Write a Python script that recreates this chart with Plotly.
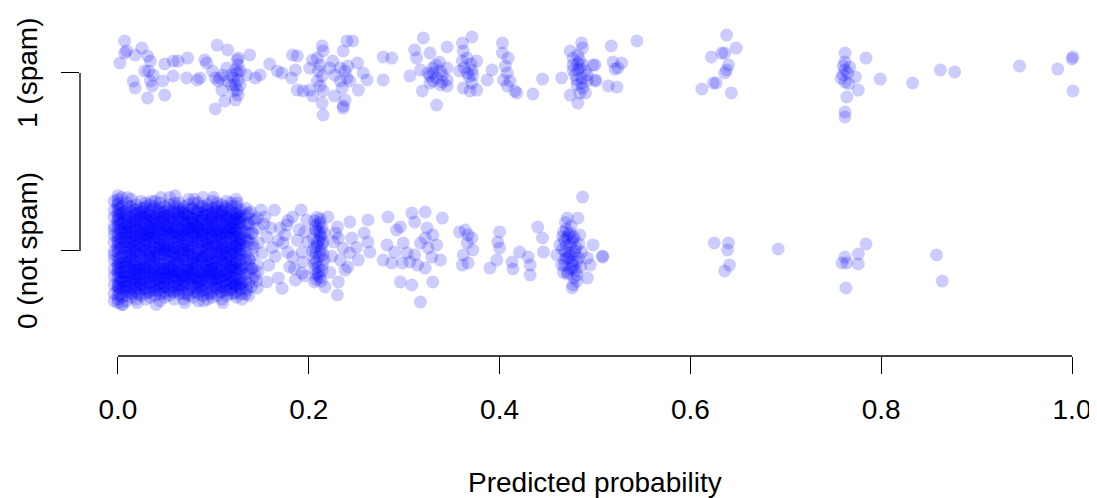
import plotly.graph_objects as go

# ---------------- data ----------------
x_tick_vals = [0.0, 0.2, 0.4, 0.6, 0.8, 1.0]
x_tick_text = ["0.0", "0.2", "0.4", "0.6", "0.8", "1.0"]
y_tick_vals = [0, 1]
y_tick_text = ["0 (not spam)", "1 (spam)"]

# spam (class 1): predicted probability, jittered class value
spam_pts = [
    (0.007,1.180),(0.007,1.112),(0.009,1.124),(0.002,1.056),(0.018,1.101),(0.025,1.140),(0.031,1.096),
    (0.034,1.067),(0.032,1.011),(0.028,1.011),(0.037,0.989),(0.034,0.955),(0.036,0.927),(0.016,0.955),
    (0.018,0.916),(0.031,0.860),(0.049,0.876),(0.049,1.051),(0.058,1.067),(0.063,1.067),(0.073,1.084),
    (0.058,0.983),(0.047,0.955),(0.072,0.972),(0.083,0.961),(0.086,0.972),(0.091,1.073),(0.093,1.056),
    (0.104,1.157),(0.115,1.129),(0.099,1.011),(0.102,0.972),(0.105,0.955),(0.109,0.904),(0.112,0.843),
    (0.102,0.798),(0.126,1.084),(0.138,1.101),(0.135,0.989),(0.144,0.972),(0.149,0.989),
    (0.125,1.073),(0.126,1.045),(0.123,1.017),(0.125,1.000),(0.121,0.972),(0.126,0.961),(0.123,0.933),
    (0.125,0.904),(0.126,0.876),(0.123,0.848),(0.119,0.989),(0.128,1.011),(0.119,0.933),(0.115,0.955),
    (0.110,0.989),(0.114,1.028),(0.107,0.972),(0.128,0.933),(0.121,0.899),
    (0.159,1.051),(0.167,1.011),(0.172,1.000),(0.183,1.101),(0.188,1.096),(0.186,1.017),(0.182,0.972),
    (0.188,0.904),(0.194,0.899),(0.201,0.904),(0.201,1.028),(0.204,1.073),(0.214,1.152),(0.215,1.124),
    (0.209,1.084),(0.212,1.045),(0.210,1.011),(0.214,0.983),(0.209,0.955),(0.212,0.927),(0.215,0.899),
    (0.214,0.831),(0.215,0.764),(0.204,0.871),(0.222,1.028),(0.225,1.067),(0.227,0.989),(0.233,0.955),
    (0.235,0.916),(0.227,0.871),(0.236,0.815),(0.240,1.180),(0.241,1.039),(0.238,1.011),
    (0.246,1.180),(0.236,1.124),(0.233,1.028),(0.240,0.972),(0.251,1.056),(0.257,1.000),(0.261,0.961),
    (0.252,0.904),(0.238,0.848),(0.236,0.803),(0.243,0.955),(0.278,1.090),(0.287,1.084),(0.278,0.961),
    (0.320,1.197),(0.311,1.129),(0.313,1.084),(0.327,1.112),(0.345,1.146),(0.306,0.983),(0.317,1.017),
    (0.330,1.028),(0.330,0.955),(0.327,0.983),(0.338,1.011),(0.345,1.028),(0.345,0.961),(0.345,0.927),
    (0.338,0.933),(0.319,0.899),(0.334,0.820),(0.361,1.169),(0.371,1.202),(0.362,1.124),(0.366,1.084),
    (0.361,1.067),(0.358,1.011),(0.371,1.017),(0.372,0.989),(0.371,0.944),(0.376,1.067),(0.362,0.916),
    (0.369,0.899),(0.376,0.904),(0.330,1.000),(0.334,0.972),(0.327,0.944),(0.340,0.989),(0.333,1.045),
    (0.325,1.000),(0.340,0.950),(0.337,1.060),(0.366,1.000),(0.368,0.980),(0.363,1.030),(0.370,1.050),
    (0.392,1.017),(0.387,0.961),(0.403,1.169),(0.403,1.112),(0.409,1.084),(0.406,1.039),(0.408,1.000),
    (0.404,0.961),(0.411,0.955),(0.408,0.927),(0.416,0.899),(0.418,0.888),(0.435,0.882),(0.445,0.966),
    (0.482,1.101),(0.484,1.073),(0.477,1.045),(0.487,1.045),(0.482,1.017),(0.490,1.011),(0.479,0.989),
    (0.486,0.972),(0.492,0.955),(0.481,0.933),(0.487,0.916),(0.484,0.888),(0.486,1.169),(0.487,1.140),
    (0.474,1.124),(0.498,1.045),(0.500,0.961),(0.465,0.972),(0.474,0.876),(0.482,0.831),(0.490,0.888),
    (0.477,1.084),(0.484,1.028),(0.492,0.989),(0.481,0.961),(0.486,0.944),(0.477,1.017),(0.482,1.056),
    (0.517,1.152),(0.544,1.180),(0.500,1.045),(0.519,1.062),(0.528,1.056),(0.524,1.028),(0.521,1.022),
    (0.501,0.955),(0.514,0.927),(0.523,0.921),
    (0.638,1.213),(0.648,1.140),(0.633,1.112),(0.636,1.112),(0.622,1.090),(0.640,1.045),(0.638,1.017),
    (0.636,1.000),(0.627,0.944),(0.624,0.944),(0.612,0.910),(0.643,0.888),
    (0.762,1.112),(0.762,1.062),(0.762,1.017),(0.760,0.989),(0.767,1.034),(0.773,0.978),(0.762,0.949),
    (0.776,0.904),(0.764,0.865),(0.762,0.781),(0.762,0.753),(0.784,1.084),(0.799,0.966),(0.833,0.944),
    (0.862,1.017),(0.877,1.006),(0.945,1.039),(0.985,1.022),(1.001,1.090),(1.000,1.079),(1.001,0.899),
    (0.760,1.040),(0.765,1.000),(0.758,0.970),(0.766,0.940),
]

# not spam (class 0): sparse / moderate regions
notspam_pts = [
    (0.126,0.185),(0.136,0.157),(0.146,0.185),(0.154,0.191),(0.147,0.129),(0.156,0.079),(0.147,0.045),
    (0.151,-0.011),(0.146,-0.079),(0.147,-0.118),(0.156,-0.174),(0.146,-0.208),(0.130,-0.180),(0.123,-0.191),
    (0.168,-0.152),(0.170,0.129),(0.177,0.146),(0.183,0.191),(0.173,0.045),(0.178,-0.006),(0.183,-0.034),
    (0.186,-0.163),(0.193,-0.124),(0.198,0.174),(0.196,0.107),(0.199,0.051),(0.193,-0.006),(0.194,-0.062),
    (0.206,-0.174),(0.217,-0.202),(0.220,0.191),(0.230,0.135),(0.231,0.073),(0.236,0.017),(0.233,-0.051),
    (0.238,-0.107),(0.231,-0.174),(0.230,-0.247),(0.243,0.163),(0.245,0.073),(0.243,-0.011),(0.241,-0.090),
    (0.140,0.10),(0.142,0.02),(0.138,-0.05),(0.144,-0.14),(0.160,0.13),(0.162,0.02),(0.158,-0.08),
    (0.165,-0.03),(0.175,0.09),(0.180,-0.09),(0.188,0.06),(0.190,0.12),(0.185,-0.10),(0.196,-0.14),
    (0.150,0.23),(0.164,0.23),(0.192,0.23),(0.172,-0.21),(0.135,0.06),(0.140,-0.10),(0.153,0.15),
    (0.168,0.06),(0.178,0.17),(0.222,-0.12),(0.226,0.05),(0.224,-0.03),(0.228,0.10),(0.250,0.02),(0.252,-0.05),
    (0.206,0.17),(0.210,0.15),(0.214,0.13),(0.208,0.11),(0.212,0.09),(0.205,0.07),(0.215,0.05),(0.209,0.03),
    (0.213,0.01),(0.207,-0.01),(0.211,-0.03),(0.216,-0.05),(0.206,-0.07),(0.210,-0.09),(0.214,-0.11),
    (0.208,-0.13),(0.212,-0.15),(0.209,0.19),(0.213,-0.17),(0.207,0.12),(0.211,0.06),(0.215,-0.02),
    (0.205,-0.04),(0.210,-0.12),(0.216,0.10),(0.204,0.00),(0.212,0.16),(0.208,-0.16),(0.214,0.04),(0.206,-0.10),
    (0.207,0.14),(0.211,0.11),(0.213,0.08),(0.209,0.05),(0.206,0.02),(0.212,-0.01),(0.208,-0.06),
    (0.214,-0.08),(0.210,-0.14),(0.212,0.18),
    (0.262,0.174),(0.258,0.101),(0.262,0.051),(0.264,-0.006),(0.283,0.191),(0.292,0.118),(0.296,0.135),
    (0.308,0.213),(0.322,0.219),(0.311,0.163),(0.340,0.185),(0.282,0.034),(0.278,-0.051),(0.287,-0.067),
    (0.299,0.045),(0.303,-0.011),(0.306,-0.062),(0.311,-0.022),(0.317,0.045),(0.322,0.073),(0.325,0.017),
    (0.329,-0.034),(0.334,0.034),(0.338,-0.051),(0.314,-0.079),(0.322,-0.096),(0.296,-0.174),(0.308,-0.191),
    (0.330,-0.174),(0.317,-0.287),(0.298,-0.067),(0.290,-0.006),(0.324,0.129),(0.330,0.090),
    (0.364,0.118),(0.367,0.090),(0.371,0.073),(0.366,0.045),(0.372,0.006),(0.362,-0.022),(0.367,-0.067),
    (0.361,-0.079),(0.358,0.107),
    (0.400,0.107),(0.398,0.051),(0.400,0.017),(0.397,-0.051),(0.390,-0.096),(0.413,-0.062),(0.414,-0.101),
    (0.421,-0.006),(0.430,-0.034),(0.432,-0.079),(0.432,-0.135),(0.440,0.135),(0.445,0.073),(0.446,-0.006),
    (0.471,0.185),(0.482,0.185),(0.487,0.303),(0.467,0.107),(0.471,0.073),(0.474,0.034),(0.469,-0.006),
    (0.472,-0.039),(0.465,-0.079),(0.477,-0.096),(0.481,-0.135),(0.477,-0.191),(0.476,-0.208),(0.492,-0.152),
    (0.498,0.034),(0.508,-0.034),(0.460,-0.022),(0.463,0.034),(0.484,0.090),(0.486,-0.006),(0.481,-0.062),
    (0.492,-0.039),(0.495,-0.079),
    (0.470,0.12),(0.474,0.10),(0.478,0.08),(0.468,0.06),(0.476,0.05),(0.480,0.02),(0.466,0.01),(0.473,-0.01),
    (0.479,-0.02),(0.470,-0.04),(0.476,-0.06),(0.468,-0.08),(0.474,-0.10),(0.480,-0.11),(0.471,-0.13),
    (0.478,-0.15),(0.483,0.04),(0.485,-0.09),(0.467,-0.12),(0.475,0.14),(0.469,0.16),(0.481,-0.17),
    (0.472,0.09),(0.477,0.07),(0.470,0.03),(0.479,0.00),(0.474,-0.03),(0.468,-0.05),(0.477,-0.08),
    (0.472,-0.12),(0.483,-0.04),(0.466,0.08),
    (0.508,-0.028),(0.625,0.045),(0.640,0.045),(0.639,0.006),(0.641,-0.079),(0.636,-0.112),(0.692,0.011),
    (0.762,-0.034),(0.759,-0.067),(0.764,-0.067),(0.776,-0.017),(0.776,-0.073),(0.784,0.039),(0.763,-0.208),
    (0.858,-0.022),(0.864,-0.169),
    # ragged edge of the dense block near zero
    (0.010,0.30),(0.035,0.28),(0.060,0.31),(0.080,0.29),(0.100,0.30),(0.125,0.27),(0.045,0.30),
    (0.005,-0.30),(0.020,-0.29),(0.040,-0.30),(0.070,-0.29),(0.090,-0.28),(0.110,-0.29),(0.130,-0.27),
    (0.135,-0.22),(0.140,-0.20),(0.139,0.22),(0.143,0.17),(0.145,-0.17),(0.137,-0.25),
]

# not spam: dense block of predictions near zero (column x value -> jittered y values)
core_x = [-0.004, 0.000, 0.004, 0.009, 0.014, 0.019, 0.024, 0.029, 0.034, 0.039, 0.044, 0.049,
          0.054, 0.059, 0.064, 0.069, 0.074, 0.079, 0.084, 0.089, 0.094, 0.099, 0.104, 0.109,
          0.114, 0.119, 0.124, 0.129, 0.134]
core_y = [
    [0.28,0.23,0.19,0.14,0.09,0.05,0.0,-0.05,-0.1,-0.14,-0.19,-0.24,-0.28,0.12,-0.02],
    [0.31,0.29,0.26,0.24,0.22,0.2,0.17,0.15,0.13,0.1,0.08,0.06,0.03,0.01,-0.01,-0.04,-0.06,-0.08,-0.11,
     -0.13,-0.15,-0.18,-0.2,-0.22,-0.25,-0.27,-0.29,0.18,0.05,-0.09,-0.2,0.27],
    [0.3,0.25,0.21,0.16,0.12,0.07,0.02,-0.03,-0.07,-0.12,-0.17,-0.21,-0.26,-0.3,0.1,-0.15],
    [0.27,0.23,0.2,0.18,0.15,0.11,0.09,0.06,0.02,0.0,-0.03,-0.05,-0.09,-0.12,-0.14,-0.17,-0.2,-0.22,-0.25,-0.28,0.13,-0.07],
    [0.25,0.22,0.19,0.16,0.13,0.1,0.07,0.04,0.01,-0.02,-0.04,-0.07,-0.1,-0.13,-0.16,-0.18,-0.21,-0.24,-0.26,0.29,0.05,-0.11],
    [0.26,0.21,0.18,0.16,0.12,0.08,0.06,0.03,-0.01,-0.03,-0.06,-0.09,-0.11,-0.15,-0.17,-0.2,-0.23,-0.27,0.14,0.0,-0.13,0.23],
    [0.28,0.24,0.2,0.17,0.14,0.1,0.08,0.05,0.02,-0.01,-0.05,-0.08,-0.1,-0.13,-0.16,-0.19,-0.22,-0.25,0.11,-0.03,0.22,-0.18],
    [0.25,0.21,0.19,0.15,0.12,0.09,0.05,0.03,0.0,-0.02,-0.06,-0.09,-0.12,-0.14,-0.17,-0.21,-0.24,-0.27,0.17,0.07,-0.1,0.27],
    [0.26,0.23,0.2,0.16,0.13,0.11,0.07,0.04,0.01,-0.03,-0.05,-0.08,-0.11,-0.15,-0.18,-0.2,-0.23,-0.26,0.09,-0.13,0.18,-0.01],
    [0.24,0.21,0.17,0.15,0.12,0.08,0.05,0.02,0.0,-0.04,-0.07,-0.09,-0.12,-0.16,-0.19,-0.22,-0.25,0.28,0.1,-0.14,0.19,-0.02],
    [0.27,0.22,0.19,0.16,0.14,0.1,0.06,0.03,0.01,-0.02,-0.05,-0.1,-0.13,-0.15,-0.18,-0.21,-0.24,-0.28,0.12,-0.07,0.24,0.04],
    [0.25,0.2,0.18,0.14,0.11,0.08,0.04,0.02,-0.01,-0.04,-0.07,-0.1,-0.12,-0.16,-0.19,-0.23,-0.26,0.22,0.15,-0.14,0.0,-0.2],
    [0.26,0.23,0.19,0.17,0.13,0.1,0.07,0.03,0.0,-0.03,-0.06,-0.09,-0.13,-0.15,-0.18,-0.22,-0.25,0.3,0.09,-0.11,0.2,-0.01],
    [0.24,0.21,0.18,0.15,0.11,0.09,0.05,0.02,-0.02,-0.04,-0.08,-0.11,-0.14,-0.17,-0.2,-0.23,-0.27,0.27,0.13,-0.06,0.01,-0.15],
    [0.27,0.22,0.2,0.16,0.12,0.08,0.06,0.03,0.0,-0.03,-0.07,-0.1,-0.12,-0.16,-0.19,-0.21,-0.24,0.18,0.1,-0.13,0.24,-0.05],
    [0.25,0.21,0.17,0.14,0.11,0.09,0.04,0.01,-0.01,-0.05,-0.08,-0.11,-0.14,-0.17,-0.2,-0.24,-0.27,0.22,0.07,-0.03,0.15,-0.18],
    [0.26,0.23,0.19,0.16,0.13,0.1,0.06,0.03,0.0,-0.02,-0.06,-0.09,-0.13,-0.15,-0.18,-0.22,-0.25,0.29,0.12,-0.11,0.2,0.01],
    [0.24,0.2,0.18,0.15,0.12,0.08,0.05,0.02,-0.02,-0.04,-0.07,-0.1,-0.12,-0.16,-0.19,-0.23,-0.26,0.27,0.1,-0.14,0.16,-0.06],
    [0.27,0.22,0.19,0.17,0.14,0.11,0.07,0.04,0.01,-0.03,-0.05,-0.08,-0.11,-0.15,-0.18,-0.21,-0.24,-0.28,0.13,-0.01,0.23,-0.17],
    [0.25,0.21,0.18,0.15,0.12,0.09,0.06,0.03,0.0,-0.03,-0.06,-0.1,-0.13,-0.16,-0.19,-0.22,-0.25,0.3,0.1,-0.12,0.2,-0.04],
    [0.26,0.23,0.2,0.16,0.13,0.1,0.07,0.04,0.01,-0.02,-0.05,-0.08,-0.11,-0.14,-0.17,-0.21,-0.24,-0.27,0.15,-0.06,0.24,0.03],
    [0.28,0.24,0.19,0.17,0.14,0.11,0.08,0.05,0.02,-0.01,-0.04,-0.07,-0.1,-0.13,-0.16,-0.2,-0.23,-0.26,0.12,-0.09,0.21,-0.17],
    [0.25,0.22,0.18,0.15,0.12,0.09,0.06,0.03,0.0,-0.03,-0.06,-0.09,-0.12,-0.15,-0.18,-0.21,-0.25,0.27,0.1,-0.13,0.2,-0.01],
    [0.26,0.23,0.2,0.17,0.13,0.1,0.07,0.04,0.01,-0.02,-0.05,-0.08,-0.11,-0.14,-0.17,-0.2,-0.23,-0.27,0.15,-0.06,0.22,0.03],
    [0.24,0.21,0.18,0.15,0.12,0.09,0.05,0.02,-0.01,-0.04,-0.07,-0.1,-0.13,-0.16,-0.19,-0.22,-0.25,0.28,0.11,-0.12,0.19,-0.03],
    [0.27,0.22,0.19,0.16,0.13,0.1,0.07,0.04,0.01,-0.02,-0.05,-0.08,-0.11,-0.15,-0.18,-0.21,-0.24,0.25,0.14,-0.09,0.0,-0.17],
    [0.25,0.21,0.18,0.15,0.11,0.08,0.05,0.02,-0.01,-0.04,-0.07,-0.1,-0.13,-0.16,-0.19,-0.23,-0.26,0.29,0.12,-0.06,0.2,0.03],
    [0.23,0.2,0.16,0.13,0.1,0.07,0.04,0.01,-0.02,-0.05,-0.08,-0.12,-0.15,-0.18,-0.21,-0.24,0.18,0.06,-0.1,0.0],
    [0.2,0.15,0.11,0.07,0.03,-0.01,-0.05,-0.09,-0.13,-0.17,-0.21,0.24,-0.24],
]
# second, interleaved set of columns in the same dense block
core2_x = [0.002, 0.007, 0.012, 0.017, 0.022, 0.027, 0.032, 0.037, 0.042, 0.047, 0.052, 0.057, 0.062,
           0.067, 0.072, 0.077, 0.082, 0.087, 0.092, 0.097, 0.102, 0.107, 0.112, 0.117, 0.122, 0.127,
           0.137, 0.141]
core2_y = [
    [0.24,0.18,0.12,0.07,0.01,-0.04,-0.1,-0.15,-0.21,0.21,0.15,0.04,-0.07,-0.12,-0.18,-0.24],
    [0.22,0.16,0.1,0.05,-0.01,-0.06,-0.12,-0.17,-0.23,0.19,0.13,0.02,-0.09,-0.14,0.08,-0.2],
    [0.25,0.19,0.13,0.08,0.02,-0.03,-0.09,-0.14,-0.2,0.16,0.05,-0.06,-0.17,-0.23,0.11,-0.01],
    [0.23,0.17,0.11,0.06,0.0,-0.05,-0.11,-0.16,-0.22,0.2,0.14,0.03,-0.08,-0.19,0.09,-0.13],
    [0.21,0.15,0.09,0.04,-0.02,-0.07,-0.13,-0.18,-0.24,0.18,0.12,0.01,-0.1,-0.15,0.07,-0.21],
    [0.24,0.19,0.12,0.06,0.01,-0.05,-0.1,-0.16,-0.21,0.22,0.15,0.03,-0.08,-0.13,0.09,-0.19],
    [0.22,0.17,0.1,0.08,0.0,-0.04,-0.12,-0.15,-0.23,0.2,0.13,0.05,-0.07,-0.18,0.11,-0.02],
    [0.25,0.18,0.13,0.05,0.02,-0.06,-0.09,-0.17,-0.2,0.16,0.07,-0.03,-0.14,-0.22,0.1,-0.11],
    [0.23,0.16,0.11,0.07,-0.01,-0.03,-0.11,-0.14,-0.22,0.21,0.14,0.02,-0.09,-0.19,0.08,-0.16],
    [0.21,0.19,0.12,0.04,0.01,-0.07,-0.1,-0.18,-0.24,0.17,0.09,-0.02,-0.12,-0.15,0.06,-0.2],
    [0.24,0.15,0.1,0.06,0.0,-0.05,-0.13,-0.16,-0.21,0.2,0.12,0.03,-0.08,-0.18,0.13,-0.1],
    [0.22,0.18,0.13,0.08,0.02,-0.04,-0.09,-0.15,-0.23,0.16,0.05,-0.01,-0.11,-0.2,0.1,-0.13],
    [0.25,0.17,0.11,0.05,-0.02,-0.06,-0.12,-0.17,-0.2,0.21,0.14,0.02,-0.07,-0.14,0.08,-0.22],
    [0.23,0.19,0.12,0.07,0.01,-0.03,-0.1,-0.14,-0.22,0.18,0.09,-0.01,-0.13,-0.19,0.04,-0.16],
    [0.21,0.16,0.1,0.06,0.0,-0.07,-0.11,-0.18,-0.24,0.2,0.13,0.03,-0.09,-0.15,0.12,-0.05],
    [0.24,0.18,0.13,0.04,0.02,-0.05,-0.12,-0.16,-0.21,0.16,0.08,-0.02,-0.1,-0.19,0.1,-0.14],
    [0.22,0.15,0.11,0.08,-0.01,-0.04,-0.09,-0.15,-0.23,0.21,0.14,0.05,-0.07,-0.2,0.06,-0.12],
    [0.25,0.19,0.12,0.05,0.01,-0.06,-0.13,-0.17,-0.2,0.17,0.09,-0.03,-0.11,-0.16,0.11,-0.22],
    [0.23,0.17,0.1,0.07,0.0,-0.03,-0.1,-0.14,-0.22,0.2,0.13,0.02,-0.08,-0.18,0.05,-0.12],
    [0.21,0.18,0.13,0.06,0.02,-0.07,-0.11,-0.18,-0.24,0.16,0.08,-0.01,-0.12,-0.15,0.1,-0.05],
    [0.24,0.16,0.11,0.04,-0.02,-0.05,-0.12,-0.16,-0.21,0.22,0.14,0.03,-0.09,-0.19,0.07,-0.13],
    [0.22,0.19,0.12,0.08,0.01,-0.04,-0.09,-0.15,-0.23,0.17,0.1,-0.02,-0.11,-0.2,0.05,-0.16],
    [0.25,0.17,0.1,0.05,0.0,-0.06,-0.13,-0.17,-0.2,0.2,0.13,0.02,-0.07,-0.14,0.09,-0.22],
    [0.23,0.15,0.13,0.07,0.02,-0.03,-0.1,-0.14,-0.22,0.18,0.08,-0.01,-0.12,-0.18,0.11,-0.06],
    [0.21,0.18,0.11,0.06,-0.01,-0.07,-0.11,-0.18,-0.24,0.16,0.13,0.03,-0.09,-0.15,0.08,-0.2],
    [0.22,0.16,0.12,0.04,0.01,-0.05,-0.12,-0.16,-0.21,0.19,0.09,-0.02,-0.1,-0.19,0.06],
    [0.15,0.05,-0.04,-0.12,0.21,-0.18,0.1,-0.08],
    [0.1,-0.02,-0.1,0.18,0.04,-0.15],
]

# ---------------- build ----------------
ns_x = [p[0] for p in notspam_pts]
ns_y = [p[1] for p in notspam_pts]
for cx, ys in list(zip(core_x, core_y)) + list(zip(core2_x, core2_y)):
    ns_x += [cx] * len(ys)
    ns_y += ys
sp_x = [p[0] for p in spam_pts]
sp_y = [p[1] for p in spam_pts]

FONT = "Liberation Sans, Arial, Helvetica, sans-serif"
marker = dict(size=13, color="rgba(0,0,255,0.2)", line=dict(width=0))

fig = go.Figure()
fig.add_trace(go.Scatter(x=ns_x, y=ns_y, mode="markers", marker=marker, hoverinfo="skip"))
fig.add_trace(go.Scatter(x=sp_x, y=sp_y, mode="markers", marker=marker, hoverinfo="skip"))

# page has an 8px body margin; the figure is sized to fit the window
W, H = 1089, 490
L, B = 72, 142
PH = H - B  # plot height in px (348)
fig.update_layout(
    width=W, height=H,
    margin=dict(l=L, r=0, t=0, b=B, pad=0),
    paper_bgcolor="white", plot_bgcolor="white",
    showlegend=False,
    font=dict(family=FONT, size=28, color="black"),
    xaxis=dict(range=[-0.0398, 1.0262], showgrid=False, zeroline=False, showline=False,
               tickvals=x_tick_vals, ticktext=x_tick_text, ticks="outside", ticklen=17,
               tickwidth=1.3, tickcolor="black", tickfont=dict(size=28),
               ticklabelstandoff=11),
    yaxis=dict(range=[-0.59, -0.59 + PH / 178.0], showgrid=False, zeroline=False, showline=False,
               tickvals=y_tick_vals, ticks="outside", ticklen=18, tickwidth=1.3,
               tickcolor="black", showticklabels=False),
)
# axis lines spanning only the tick range (base-graphics style)
fig.add_shape(type="line", xref="x", yref="paper", x0=x_tick_vals[0], x1=x_tick_vals[-1],
              y0=0, y1=0, line=dict(color="black", width=1.3))
fig.add_shape(type="line", xref="paper", yref="y", x0=0, x1=0,
              y0=y_tick_vals[0], y1=y_tick_vals[-1], line=dict(color="black", width=1.3))

for v, t in zip(y_tick_vals, y_tick_text):
    fig.add_annotation(x=-(L - 20) / (W - L), xref="paper", y=v, yref="y", text=t,
                       textangle=-90, showarrow=False, font=dict(size=28),
                       xanchor="center", yanchor="middle")
fig.add_annotation(x=0.5, xref="x", y=-(474 - PH) / PH, yref="paper",
                   text="Predicted probability", showarrow=False, font=dict(size=28),
                   xanchor="center", yanchor="middle")

fig.write_html("out.html")
